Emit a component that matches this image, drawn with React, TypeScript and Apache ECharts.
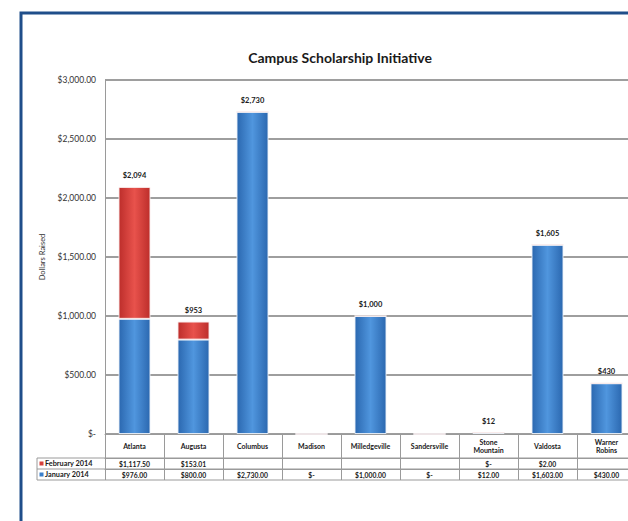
import React, { useEffect, useRef } from "react";
import * as echarts from "echarts";

const categories = [
  "Atlanta",
  "Augusta",
  "Columbus",
  "Madison",
  "Milledgeville",
  "Sandersville",
  "Stone Mountain",
  "Valdosta",
  "Warner Robins",
];
const february2014: (number | null)[] = [1117.5, 153.01, null, null, null, null, 0, 2, null];
const january2014: number[] = [976, 800, 2730, 0, 1000, 0, 12, 1603, 430];
const yTicks = [0, 500, 1000, 1500, 2000, 2500, 3000];
const seriesNames = ["February 2014", "January 2014"];
const chartTitle = "Campus Scholarship Initiative";
const yAxisTitle = "Dollars Raised";

const FONT = "Lato, 'Open Sans', sans-serif";

const money2 = (v: number | null) => {
  if (v === null || v === undefined) return "";
  if (v === 0) return "$-";
  return "$" + v.toLocaleString("en-US", { minimumFractionDigits: 2, maximumFractionDigits: 2 });
};

export default function App() {
  const ref = useRef<HTMLDivElement>(null);
  useEffect(() => {
    if (!ref.current) return;
    const chart = echarts.init(ref.current, null, { renderer: "svg" });

    const blue = new echarts.graphic.LinearGradient(0, 0, 1, 0, [
      { offset: 0, color: "#2b68b0" },
      { offset: 0.5, color: "#5096de" },
      { offset: 1, color: "#2b68b0" },
    ]);
    const red = new echarts.graphic.LinearGradient(0, 0, 1, 0, [
      { offset: 0, color: "#bd2e2b" },
      { offset: 0.5, color: "#e8524c" },
      { offset: 1, color: "#bd2e2b" },
    ]);

    const gridLeft = 105;
    const gridTop = 80;
    const width = 660;
    const height = 521;
    const gridRight = 24;
    const gridBottom = 87;
    const baseY = height - gridBottom; // 434
    const row1 = baseY + 24;
    const row2 = baseY + 35;
    const row3 = baseY + 46;
    const tableLeft = 37;
    const plotRight = width - gridRight;
    const lineColor = "#9a9a9a";

    const tableAxisBase = {
      type: "category" as const,
      data: categories,
      position: "bottom" as const,
      gridIndex: 0,
      axisTick: { show: false },
      splitLine: { show: false },
    };

    chart.setOption({
      animation: false,
      backgroundColor: "#ffffff",
      textStyle: { fontFamily: FONT },
      grid: { left: gridLeft, top: gridTop, right: gridRight, bottom: gridBottom },
      xAxis: [
        {
          ...tableAxisBase,
          axisLine: { show: true, lineStyle: { color: lineColor, width: 1 } },
          axisTick: {
            show: true,
            length: 46,
            interval: 0,
            lineStyle: { color: lineColor, width: 1 },
          },
          axisLabel: {
            interval: 0,
            margin: 12,
            verticalAlign: "middle",
            fontSize: 7,
            fontWeight: "bold",
            lineHeight: 8.5,
            color: "#1a1a1a",
            fontFamily: FONT,
            formatter: (name: string) => (name.includes(" ") ? name.replace(" ", "\n") : name),
          },
        },
        {
          ...tableAxisBase,
          offset: 24,
          axisLine: { show: true, lineStyle: { color: lineColor, width: 1 } },
          axisLabel: {
            interval: 0,
            margin: 5.5,
            verticalAlign: "middle",
            fontSize: 6.8,
            fontWeight: "bold",
            color: "#1a1a1a",
            fontFamily: FONT,
            formatter: (_: string, i: number) => money2(february2014[i]),
          },
        },
        {
          ...tableAxisBase,
          offset: 35,
          axisLine: { show: true, lineStyle: { color: lineColor, width: 1 } },
          axisLabel: {
            interval: 0,
            margin: 5.5,
            verticalAlign: "middle",
            fontSize: 6.8,
            fontWeight: "bold",
            color: "#1a1a1a",
            fontFamily: FONT,
            formatter: (_: string, i: number) => money2(january2014[i]),
          },
        },
      ],
      yAxis: {
        type: "value",
        min: yTicks[0],
        max: yTicks[yTicks.length - 1],
        interval: yTicks[1] - yTicks[0],
        name: yAxisTitle,
        nameLocation: "middle",
        nameGap: 58,
        nameRotate: 90,
        nameTextStyle: { fontSize: 7.5, color: "#333", fontFamily: FONT },
        axisLine: { show: true, lineStyle: { color: lineColor, width: 1 } },
        axisTick: { show: false },
        axisLabel: {
          margin: 9,
          fontSize: 8.5,
          color: "#333",
          fontFamily: FONT,
          formatter: (v: number) => money2(v),
        },
        splitLine: { show: true, lineStyle: { color: "#9e9e9e", width: 1.8 } },
      },
      series: [
        {
          name: seriesNames[1],
          type: "bar",
          stack: "total",
          barWidth: 32,
          data: january2014,
          itemStyle: { color: blue, borderColor: "rgba(235,242,250,0.9)", borderWidth: 1 },
        },
        {
          name: seriesNames[0],
          type: "bar",
          stack: "total",
          barWidth: 32,
          data: february2014.map((v) => (v === null ? 0 : v)),
          itemStyle: { color: red, borderColor: "rgba(250,235,235,0.9)", borderWidth: 1 },
          label: {
            show: true,
            position: "top",
            distance: 7,
            fontSize: 7.5,
            fontWeight: "bold",
            color: "#1a1a1a",
            fontFamily: FONT,
            formatter: (p: any) => {
              const total = january2014[p.dataIndex] + (february2014[p.dataIndex] ?? 0);
              if (total === 0) return "";
              return "$" + Math.round(total).toLocaleString("en-US");
            },
          },
        },
      ],
      graphic: [
        {
          type: "rect",
          shape: { x: 21, y: 13, width: 700, height: 600 },
          style: { fill: "none", stroke: "#1f4e8a", lineWidth: 3 },
          silent: true,
        },
        {
          type: "text",
          x: 340,
          y: 57,
          style: {
            text: chartTitle,
            fontSize: 14,
            fontWeight: "bold",
            fill: "#1a1a1a",
            fontFamily: FONT,
            align: "center",
            verticalAlign: "middle",
          },
        },
        {
          type: "line",
          shape: { x1: tableLeft, y1: row1, x2: plotRight, y2: row1 },
          style: { stroke: lineColor, lineWidth: 1 },
        },
        {
          type: "line",
          shape: { x1: tableLeft, y1: row2, x2: plotRight, y2: row2 },
          style: { stroke: lineColor, lineWidth: 1 },
        },
        {
          type: "line",
          shape: { x1: tableLeft, y1: row3, x2: plotRight, y2: row3 },
          style: { stroke: lineColor, lineWidth: 1 },
        },
        {
          type: "line",
          shape: { x1: tableLeft, y1: row1, x2: tableLeft, y2: row3 },
          style: { stroke: lineColor, lineWidth: 1 },
        },
        {
          type: "rect",
          shape: { x: 39.5, y: row1 + 3.5, width: 4, height: 4 },
          style: { fill: "#d6403b" },
        },
        {
          type: "text",
          x: 45,
          y: (row1 + row2) / 2,
          style: {
            text: seriesNames[0],
            fontSize: 7.3,
            fontWeight: "bold",
            fill: "#1a1a1a",
            fontFamily: FONT,
            verticalAlign: "middle",
          },
        },
        {
          type: "rect",
          shape: { x: 39.5, y: row2 + 3.5, width: 4, height: 4 },
          style: { fill: "#3a7fcb" },
        },
        {
          type: "text",
          x: 45,
          y: (row2 + row3) / 2,
          style: {
            text: seriesNames[1],
            fontSize: 7.3,
            fontWeight: "bold",
            fill: "#1a1a1a",
            fontFamily: FONT,
            verticalAlign: "middle",
          },
        },
      ],
    });
    return () => chart.dispose();
  }, []);

  return (
    <div
      style={{
        position: "fixed",
        left: 0,
        top: 0,
        width: 628,
        height: 521,
        overflow: "hidden",
        background: "#fff",
      }}
    >
      <div ref={ref} style={{ width: 660, height: 521 }} />
    </div>
  );
}
